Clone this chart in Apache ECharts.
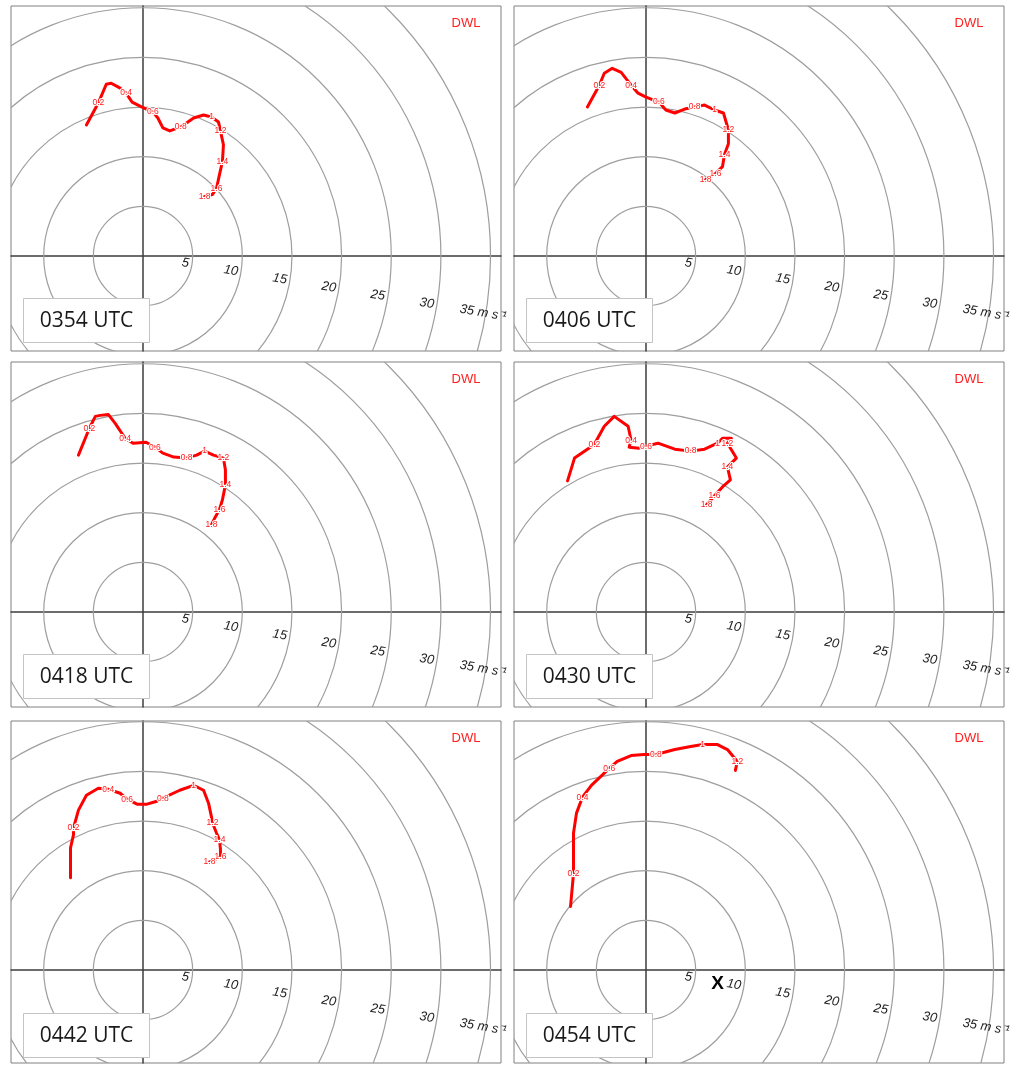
<!DOCTYPE html>
<html>
<head>
<meta charset="utf-8">
<script src="https://cdn.jsdelivr.net/npm/echarts@6/dist/echarts.min.js"></script>
<style>
  html, body { margin: 0; padding: 0; background: #fff; }
  #chart { width: 1013px; height: 1065px; }
</style>
</head>
<body>
<div id="chart"></div>
<script>
// panel times
var times = ['0354 UTC', '0406 UTC', '0418 UTC', '0430 UTC', '0442 UTC', '0454 UTC'];

// speed rings (m/s) and their labels
var ringSpeeds = [5, 10, 15, 20, 25, 30, 35];
var ringLabels = ['5', '10', '15', '20', '25', '30', '35'];
var unitLabel = 'm s\u207B\u00B9';

// hodographs: u, v (m/s) and height labels (km)
var u0354 = [-5.7, -4.5, -3.7, -3.2, -2.3, -1.7, -1.1, -0.1, 1.0, 1.5, 2.0, 2.7, 3.8, 5.1, 6.1, 6.9, 7.6, 7.8, 8.1, 8.0, 7.7, 7.4, 7.0, 6.2];
var v0354 = [13.2, 15.4, 17.3, 17.4, 16.9, 16.4, 15.5, 15.0, 14.5, 13.9, 12.9, 12.6, 13.0, 13.9, 14.2, 14.0, 13.5, 12.6, 11.2, 9.5, 8.2, 6.8, 6.2, 6.0];
var h0354 = ['', '0.2', '', '', '', '0.4', '', '', '0.6', '', '', '', '0.8', '', '', '1', '', '1.2', '', '1.4', '', '1.6', '', '1.8'];

var u0406 = [-5.9, -4.7, -4.2, -3.4, -2.5, -1.5, -0.8, 0.0, 1.3, 2.0, 2.9, 3.9, 4.9, 5.9, 6.9, 7.8, 8.3, 8.3, 7.9, 7.7, 7.0, 6.0];
var v0406 = [15.0, 17.2, 18.4, 18.9, 18.5, 17.2, 16.4, 16.0, 15.5, 14.7, 14.4, 14.8, 15.0, 15.2, 14.7, 14.4, 12.7, 11.3, 10.2, 9.0, 8.3, 7.7];
var h0406 = ['', '0.2', '', '', '', '0.4', '', '', '0.6', '', '', '', '0.8', '', '1', '', '1.2', '', '1.4', '', '1.6', '1.8'];

var u0418 = [-6.5, -5.4, -4.8, -4.3, -3.5, -2.8, -1.8, -1.0, 0.3, 1.2, 2.0, 3.1, 4.4, 5.4, 6.2, 7.1, 8.1, 8.3, 8.3, 8.0, 7.7, 7.3, 6.9];
var v0418 = [15.8, 18.5, 19.7, 19.8, 19.9, 19.0, 17.5, 17.0, 17.1, 16.6, 16.0, 15.6, 15.5, 15.8, 16.2, 15.8, 15.5, 14.3, 12.8, 11.3, 10.3, 9.6, 8.8];
var h0418 = ['', '0.2', '', '', '', '', '0.4', '', '', '0.6', '', '', '0.8', '', '1', '', '1.2', '', '1.4', '', '1.6', '', '1.8'];

var u0430 = [-7.9, -7.2, -5.9, -5.2, -4.2, -3.2, -1.8, -1.5, -1.7, -0.7, 0.0, 1.2, 2.9, 4.5, 5.9, 7.2, 7.7, 8.6, 8.2, 9.1, 8.2, 8.5, 7.7, 6.9, 6.1];
var v0430 = [13.2, 15.5, 16.4, 16.9, 18.7, 19.7, 18.7, 17.3, 16.6, 16.5, 16.7, 17.0, 16.4, 16.2, 16.4, 17.0, 17.5, 17.5, 17.0, 15.5, 14.6, 13.3, 12.6, 11.7, 10.8];
var h0430 = ['', '', '', '0.2', '', '', '', '0.4', '', '', '0.6', '', '', '0.8', '', '1', '', '', '1.2', '', '1.4', '', '', '1.6', '1.8'];

var u0442 = [-7.3, -7.3, -7.0, -7.0, -6.5, -5.7, -4.5, -3.5, -2.3, -1.6, -0.6, 0.4, 1.4, 2.0, 3.7, 5.1, 6.1, 6.6, 6.9, 7.0, 7.4, 7.7, 7.8, 7.8, 6.7];
var v0442 = [9.3, 12.3, 13.6, 14.3, 16.1, 17.6, 18.3, 18.2, 17.8, 17.2, 16.7, 16.7, 17.0, 17.3, 18.1, 18.6, 18.1, 16.8, 15.4, 14.8, 13.8, 13.1, 12.2, 11.4, 10.9];
var h0442 = ['', '', '', '0.2', '', '', '', '0.4', '', '0.6', '', '', '', '0.8', '', '1', '', '', '', '1.2', '', '1.4', '', '1.6', '1.8'];

var u0454 = [-7.6, -7.3, -7.3, -7.3, -7.0, -6.4, -5.5, -3.7, -2.9, -1.5, -0.2, 1.0, 2.9, 4.5, 5.7, 7.2, 8.2, 9.2, 9.0];
var v0454 = [6.4, 9.7, 11.7, 13.8, 15.8, 17.4, 18.6, 20.3, 21.0, 21.6, 21.7, 21.7, 22.2, 22.5, 22.7, 22.7, 22.2, 21.0, 20.1];
var h0454 = ['', '0.2', '', '', '', '0.4', '', '0.6', '', '', '', '0.8', '', '', '1', '', '', '1.2', ''];

// storm motion marker in the last panel (m/s)
var storm0454 = [7.2, -1.4];

var panels = [
  { u: u0354, v: v0354, h: h0354 },
  { u: u0406, v: v0406, h: h0406 },
  { u: u0418, v: v0418, h: h0418 },
  { u: u0430, v: v0430, h: h0430 },
  { u: u0442, v: v0442, h: h0442 },
  { u: u0454, v: v0454, h: h0454, storm: storm0454 }
];

// layout (pixels)
var pxPerMs = 9.93;
var panelLeft = [11, 514];
var panelTop = [6, 362, 721];
var panelW = 490;
var panelH = [345, 345, 342];
var originDx = 132;
var originDy = [250, 250, 249];
var labelAngle = -9.5 * Math.PI / 180;

var chart = echarts.init(document.getElementById('chart'));

function renderRing(params, api) {
  var c = api.coord([0, 0]);
  var r = api.size([api.value(0), 0])[0];
  return {
    type: 'circle',
    shape: { cx: c[0], cy: c[1], r: r },
    style: { fill: 'none', stroke: '#9e9e9e', lineWidth: 1.2 },
    silent: true
  };
}

function renderRingLabel(params, api) {
  var last = params.dataIndex === ringSpeeds.length - 1;
  var rr = api.value(0) - (last ? 1.2 : 0.3);
  var p = api.coord([rr * Math.cos(labelAngle), rr * Math.sin(labelAngle)]);
  var font = 'italic 13px "Liberation Sans", Arial, sans-serif';
  var children = [{
    type: 'text', x: p[0], y: p[1], rotation: labelAngle,
    style: { text: ringLabels[params.dataIndex], font: font, fill: '#1e1e1e', align: 'right', verticalAlign: 'middle' }
  }];
  if (last) {
    children.push({
      type: 'text', x: p[0], y: p[1], rotation: labelAngle,
      style: { text: ' ' + unitLabel, font: font, fill: '#1e1e1e', align: 'left', verticalAlign: 'middle' }
    });
  }
  return { type: 'group', children: children, silent: true };
}

// text placed at a data point (height labels, storm marker)
function renderPointText(params, api) {
  var p = api.coord([api.value(0), api.value(1)]);
  var t = api.value(2);
  var isMark = t === 'X';
  return {
    type: 'text', x: p[0], y: p[1], silent: true,
    style: {
      text: t,
      font: isMark ? 'bold 19px "Liberation Sans", Arial, sans-serif' : '8.5px "Liberation Sans", Arial, sans-serif',
      fill: isMark ? '#000' : '#ff1a1a',
      stroke: isMark ? null : '#fff', lineWidth: isMark ? 0 : 2.2,
      align: 'center', verticalAlign: 'middle'
    }
  };
}

var grids = [], xAxes = [], yAxes = [], series = [], graphics = [];

panels.forEach(function (pn, i) {
  var col = i % 2, row = Math.floor(i / 2);
  var left = panelLeft[col], top = panelTop[row], h = panelH[row];
  grids.push({
    left: left, top: top, width: panelW, height: h,
    show: true, borderColor: '#808080', borderWidth: 1, backgroundColor: '#fff'
  });
  xAxes.push({
    type: 'value', gridIndex: i,
    min: -originDx / pxPerMs, max: (panelW - originDx) / pxPerMs,
    axisLine: { onZero: true, lineStyle: { color: '#3c3c3c', width: 1.5 } },
    axisTick: { show: false }, axisLabel: { show: false }, splitLine: { show: false }
  });
  yAxes.push({
    type: 'value', gridIndex: i,
    min: -(h - originDy[row]) / pxPerMs, max: originDy[row] / pxPerMs,
    axisLine: { onZero: true, lineStyle: { color: '#3c3c3c', width: 1.5 } },
    axisTick: { show: false }, axisLabel: { show: false }, splitLine: { show: false }
  });

  series.push({
    type: 'custom', xAxisIndex: i, yAxisIndex: i, clip: true, silent: true, z: 1,
    data: ringSpeeds.map(function (s) { return [s, 0]; }),
    renderItem: renderRing
  });
  series.push({
    type: 'custom', xAxisIndex: i, yAxisIndex: i, silent: true, z: 3,
    data: ringSpeeds.map(function (s) { return [s, 0]; }),
    renderItem: renderRingLabel
  });
  series.push({
    type: 'line', xAxisIndex: i, yAxisIndex: i, z: 4,
    showSymbol: false, symbol: 'none',
    lineStyle: { color: '#ff0000', width: 3, cap: 'round', join: 'round' },
    data: pn.u.map(function (x, j) { return [x, pn.v[j]]; })
  });
  var labPts = [];
  pn.h.forEach(function (t, j) {
    if (t) labPts.push([pn.u[j], pn.v[j], t]);
  });
  if (pn.storm) labPts.push([pn.storm[0], pn.storm[1], 'X']);
  series.push({
    type: 'custom', xAxisIndex: i, yAxisIndex: i, z: 5, silent: true,
    dimensions: ['u', 'v', { name: 'txt', type: 'ordinal' }],
    encode: { x: 0, y: 1 },
    data: labPts,
    renderItem: renderPointText
  });

  // time box and instrument tag
  graphics.push({
    type: 'rect', z: 100, silent: true,
    shape: { x: left + 12.5, y: top + 292.5, width: 126, height: 44 },
    style: { fill: '#fff', stroke: '#c4c4c4', lineWidth: 1 }
  });
  graphics.push({
    type: 'text', z: 101, silent: true,
    x: left + 75.5, y: top + 315,
    style: { text: times[i], font: '21px "Open Sans", sans-serif', fill: '#1a1a1a', align: 'center', verticalAlign: 'middle' }
  });
  graphics.push({
    type: 'text', z: 101, silent: true,
    x: left + panelW - 35, y: top + 17,
    style: { text: 'DWL', font: '13px "Liberation Sans", Arial, sans-serif', fill: '#ff2020', align: 'center', verticalAlign: 'middle' }
  });
});

chart.setOption({
  animation: false,
  backgroundColor: '#fff',
  grid: grids,
  xAxis: xAxes,
  yAxis: yAxes,
  series: series,
  graphic: graphics
});
</script>
</body>
</html>
